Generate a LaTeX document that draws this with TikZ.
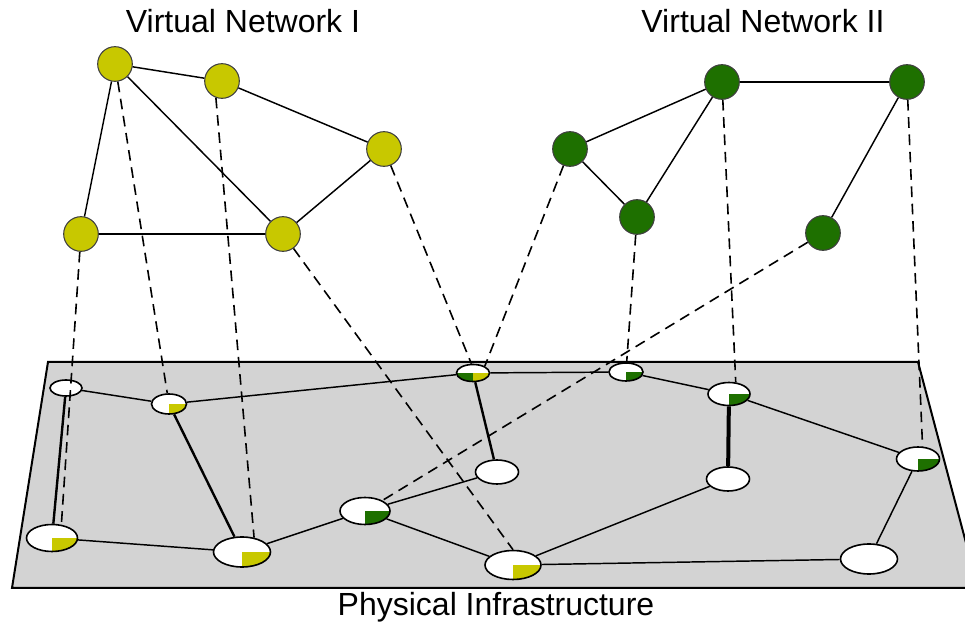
\documentclass[tikz,border=0pt]{standalone}
\usepackage{fontspec}
\setmainfont{Liberation Sans}
\usetikzlibrary{shapes.geometric}
\definecolor{vyellow}{RGB}{200,200,0}
\definecolor{vgreen}{RGB}{30,112,0}
\definecolor{planegray}{RGB}{211,211,211}
\begin{document}
\begin{tikzpicture}[x=0.75pt,y=-0.75pt,
  title/.style={font=\fontsize{24}{28}\selectfont, anchor=base, inner sep=0pt},
  vnode/.style={circle, draw=black!75, line width=0.8pt, minimum size=26pt, inner sep=0pt},
  vy/.style={vnode, fill=vyellow},
  vg/.style={vnode, fill=vgreen},
  pnode/.style={ellipse, draw=black, fill=white, line width=1.2pt, inner sep=0pt},
  psize/.style 2 args={minimum width=#1*0.75pt, minimum height=#2*0.75pt},
  qY/.style={path picture={\fill[vyellow] (path picture bounding box.center) rectangle (path picture bounding box.south east);}},
  qG/.style={path picture={\fill[vgreen] (path picture bounding box.center) rectangle (path picture bounding box.south east);}},
  qGY/.style={path picture={
      \fill[vgreen] (path picture bounding box.center) rectangle (path picture bounding box.south west);
      \fill[vyellow] (path picture bounding box.center) rectangle (path picture bounding box.south east);}},
  vedge/.style={line width=1.1pt},
  pedge/.style={line width=1.1pt},
  pthick/.style={line width=1.8pt},
  pheavy/.style={line width=3pt},
  map/.style={line width=1.2pt, dash pattern=on 8pt off 5pt},
]
\useasboundingbox (0,0) rectangle (965,623);

% substrate plane
\draw[fill=planegray, line width=1.5pt, line join=miter] (48,362) -- (918,362) -- (978,588) -- (12,588) -- cycle;

% titles
\node[title] (t1) at (243,33) {Virtual Network I};
\node[title] (t2) at (763,33) {Virtual Network II};
\node[title] (t3) at (496,616) {Physical Infrastructure};

% virtual network I
\node[vy] (A1) at (115,64) {};
\node[vy] (A2) at (222,81) {};
\node[vy] (A3) at (384,149) {};
\node[vy] (A4) at (81,234) {};
\node[vy] (A5) at (283,234) {};

% virtual network II
\node[vg] (B1) at (570,149) {};
\node[vg] (B2) at (722,82) {};
\node[vg] (B3) at (907,82) {};
\node[vg] (B4) at (637,217) {};
\node[vg] (B5) at (823,233) {};

% physical nodes
\node[pnode, psize={32}{16}] (P1) at (66,388) {};
\node[pnode, psize={35}{20}, qY] (P2) at (169,404) {};
\node[pnode, psize={51}{27}, qY] (P3) at (52,538) {};
\node[pnode, psize={57}{30}, qY] (P4) at (242,552) {};
\node[pnode, psize={33}{17}, qGY] (P5) at (473,373) {};
\node[pnode, psize={34}{18}, qG] (P6) at (626,372) {};
\node[pnode, psize={43}{24}] (P7) at (497,472) {};
\node[pnode, psize={50}{27}, qG] (P8) at (365,511) {};
\node[pnode, psize={56}{29}, qY] (P9) at (513,565) {};
\node[pnode, psize={42}{23}, qG] (P10) at (729,394) {};
\node[pnode, psize={43}{24}] (P11) at (728,479) {};
\node[pnode, psize={43}{24}, qG] (P12) at (918,459) {};
\node[pnode, psize={57}{30}] (P13) at (869,559) {};

% virtual links
\draw[vedge] (A1) -- (A2);
\draw[vedge] (A1) -- (A4);
\draw[vedge] (A1) -- (A5);
\draw[vedge] (A2) -- (A3);
\draw[vedge] (A3) -- (A5);
\draw[vedge] (A4) -- (A5);
\draw[vedge] (B1) -- (B2);
\draw[vedge] (B1) -- (B4);
\draw[vedge] (B4) -- (B2);
\draw[vedge] (B2) -- (B3);
\draw[vedge] (B3) -- (B5);

% physical links
\draw[pedge] (P1) -- (P2);
\draw[pthick] (P1) -- (P3);
\draw[pedge] (P2) -- (P5);
\draw[pthick] (P2) -- (P4);
\draw[pedge] (P3) -- (P4);
\draw[pedge] (P4) -- (P8);
\draw[pedge] (P8) -- (P7);
\draw[pedge] (P8) -- (P9);
\draw[pthick] (P5) -- (P7);
\draw[pedge] (P5) -- (P6);
\draw[pedge] (P6) -- (P10);
\draw[pheavy] (P10) -- (P11);
\draw[pedge] (P10) -- (P12);
\draw[pedge] (P9) -- (P11);
\draw[pedge] (P9) -- (P13);
\draw[pedge] (P12) -- (P13);

% mappings of virtual nodes onto physical nodes
\draw[map] (A1) -- (P2);
\draw[map] (A2.250) -- (P4.50);
\draw[map] (A3) -- (P5.100);
\draw[map] (A4) -- (P3.55);
\draw[map] (A5) -- (P9.north);
\draw[map] (B1) -- (P5.30);
\draw[map] (B4) -- (P6);
\draw[map] (B5) -- (P8);
\draw[map] (B2) -- (P10.60);
\draw[map] (B3) -- (P12.70);
\end{tikzpicture}
\end{document}
